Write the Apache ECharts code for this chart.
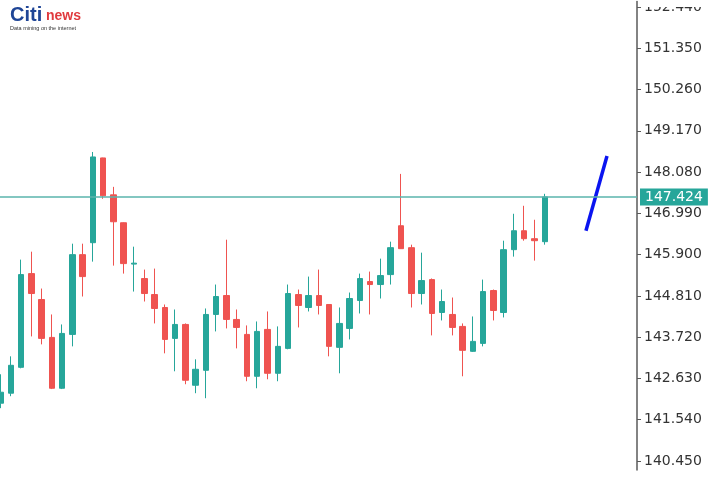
<!DOCTYPE html>
<html>
<head>
<meta charset="utf-8">
<script src="https://cdn.jsdelivr.net/npm/echarts@6/dist/echarts.min.js"></script>
<style>html,body{margin:0;padding:0;background:#fff;}#c{width:722px;height:500px;}</style>
</head>
<body>
<div id="c"></div>
<script>
// Candle values (index = bar position)
const opens  = [141.976,142.240,142.924,145.399,144.715,143.714,142.371,143.793,145.900,146.215,148.454,147.479,146.742,145.650,145.268,144.846,144.504,143.688,144.056,142.450,142.845,144.320,144.820,144.188,143.793,142.687,143.925,142.766,143.424,144.846,144.504,144.820,144.583,143.451,143.951,144.688,145.189,145.110,145.373,146.663,146.084,144.873,145.241,144.372,144.320,144.004,143.346,143.556,144.952,144.372,146.031,146.531,146.321,146.242];
const closes = [142.266,142.977,145.373,144.873,143.688,142.371,143.819,145.900,145.320,148.480,147.453,146.768,145.663,145.675,144.873,144.478,143.661,144.056,142.582,142.872,144.320,144.794,144.188,143.977,142.687,143.872,142.766,143.477,144.873,144.557,144.820,144.557,143.477,144.083,144.741,145.268,145.110,145.347,146.084,146.057,144.873,145.215,144.346,144.662,143.977,143.372,143.609,144.925,144.425,146.031,146.531,146.321,146.268,147.424];
const lows   = [141.845,142.161,142.898,143.740,143.530,142.350,142.350,143.477,144.794,145.715,147.374,145.610,145.399,144.925,144.662,144.083,143.293,142.819,142.477,142.240,142.108,143.872,143.951,143.424,142.556,142.371,142.608,142.556,143.400,143.977,144.399,144.320,143.214,142.766,143.661,144.346,144.320,144.741,145.110,146.050,144.504,144.583,143.767,144.162,143.767,142.687,143.330,143.477,144.162,144.241,145.847,146.268,145.742,146.163];
const highs  = [142.740,143.214,145.768,145.978,145.004,144.320,144.056,146.189,146.189,148.611,148.460,147.690,146.750,146.110,145.505,145.531,144.583,144.451,144.083,143.135,144.478,145.110,146.294,144.451,144.030,144.135,144.399,144.004,145.110,144.978,145.320,145.505,144.590,144.504,144.899,145.399,145.452,145.794,146.242,148.032,146.163,145.952,145.270,144.978,144.767,144.083,144.267,145.241,144.978,146.268,146.979,147.190,146.821,147.506];
const yTicks = [140.450,141.540,142.630,143.720,144.810,145.900,146.990,148.080,149.170,150.260,151.350,152.440];
const currentPrice = 147.424;
const trendX = [57.01, 59.06];
const trendY = [146.531, 148.506];

const UP = '#26a69a', DOWN = '#ef5350';
const candleData = opens.map((o, i) => [i, o, closes[i], lows[i], highs[i]]);
const trendData = trendX.map((x, i) => [x, trendY[i]]);

const chart = echarts.init(document.getElementById('c'));
chart.setOption({
  animation: false,
  backgroundColor: '#ffffff',
  grid: { left: 0, right: 85, top: 0, bottom: 30 },
  xAxis: { type: 'value', min: -0.05, max: 61.98, show: false, splitLine: { show: false } },
  yAxis: {
    type: 'value', position: 'right', min: 140.212, max: 152.587, scale: true,
    splitLine: { show: false },
    axisLine: { show: true, onZero: false, lineStyle: { color: '#5a5a5a', width: 1.5 } },
    axisTick: { show: true, length: 4, customValues: yTicks, lineStyle: { color: '#5a5a5a' } },
    axisLabel: { customValues: yTicks, formatter: v => v.toFixed(3), color: '#333', fontSize: 14, fontFamily: 'DejaVu Sans', margin: 7 }
  },
  series: [
    {
      type: 'candlestick', data: candleData, barWidth: 6,
      itemStyle: { color: UP, color0: DOWN, borderColor: UP, borderColor0: DOWN, borderWidth: 1 },
      markLine: {
        silent: true, symbol: 'none',
        lineStyle: { color: '#5ab5ad', width: 1.5, type: 'solid' },
        label: { show: true, position: 'end', distance: 3, formatter: currentPrice.toFixed(3), color: '#fff', backgroundColor: UP, padding: [2, 5, 1, 5], fontSize: 14, fontFamily: 'DejaVu Sans' },
        data: [{ yAxis: currentPrice }]
      }
    },
    {
      type: 'line', data: trendData, symbol: 'none', silent: true,
      lineStyle: { color: '#0a14f0', width: 3.5 }
    }
  ],
  graphic: [
    { type: 'rect', left: 639, top: 0, shape: { width: 83, height: 7 }, style: { fill: '#fff' }, z: 100 },
    { type: 'text', left: 10, top: 5, style: { text: 'Citi', fill: '#1f4596', font: 'bold 20px "Liberation Sans"' }, z: 100 },
    { type: 'text', left: 46, top: 9, style: { text: 'news', fill: '#e03a3e', font: 'bold 14px "Liberation Sans"' }, z: 100 },
    { type: 'text', left: 10, top: 25, style: { text: 'Data mining on the internet', fill: '#333', font: '5.5px "Liberation Sans"' }, z: 100 }
  ]
});
</script>
</body>
</html>
